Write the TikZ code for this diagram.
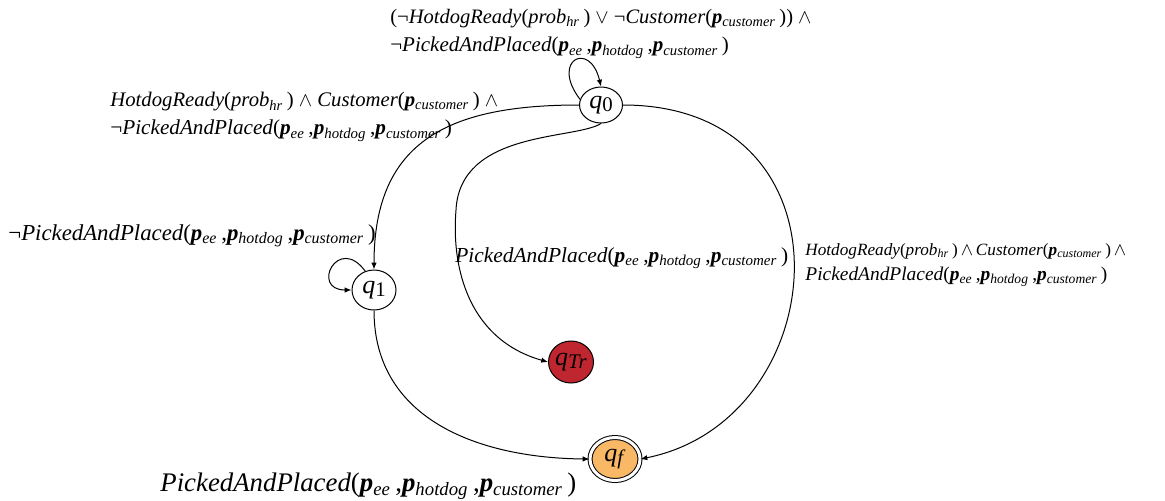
\documentclass[tikz,border=0pt]{standalone}
\usepackage{fontspec}
\usepackage{graphicx}
\setmainfont{Liberation Serif}
\usetikzlibrary{arrows.meta,shapes.geometric}

\definecolor{trapred}{RGB}{192,38,48}
\definecolor{goalorange}{RGB}{249,184,102}

% predicate pieces
\newcommand\bvec{\textbf{\textit{p}}}
\newcommand\sbs[1]{\textsubscript{\textit{#1}}}
\newcommand\pap{\textit{PickedAndPlaced}(\bvec\sbs{ee}\,,\bvec\sbs{hotdog}\,,\bvec\sbs{customer}\,)}
\newcommand\hdready{\textit{HotdogReady}(\textit{prob}\sbs{hr}\,)}
\newcommand\cust{\textit{Customer}(\bvec\sbs{customer}\,)}
\newcommand\stname[1]{\textit{q}\raisebox{-0.3ex}{\scalebox{0.8}{#1}}}
\newcommand\fs[2]{\fontsize{#1}{#2}\selectfont}

\tikzset{
  st/.style={ellipse, draw, line width=0.5pt, inner sep=0pt,
    font=\fs{13}{13}},
  lbl/.style={anchor=west, inner sep=0pt, align=left},
  edge/.style={line width=0.5pt, -{Latex[length=3.4pt,width=2.7pt]}}
}

\begin{document}
\begin{tikzpicture}[x=0.5pt, y=-0.5pt]
\useasboundingbox (0,0) rectangle (1165,500);

% states
\node[st, minimum width=21.5pt, minimum height=18pt] (q0) at (601,105) {\stname{0}};
\node[st, minimum width=22pt, minimum height=20pt] (q1) at (374,290) {\stname{1}};
\node[st, fill=trapred, minimum width=22.5pt, minimum height=21pt] (qtr) at (571,362)
  {\textit{q}\raisebox{-0.3ex}{\scalebox{0.8}{\textit{Tr}}}};
\node[st, fill=goalorange, double, double distance=1.5pt,
      minimum width=25pt, minimum height=21.5pt] (qf) at (615,459)
  {\textit{q}\raisebox{-0.3ex}{\scalebox{0.8}{\textit{f}}}};

% transition guards
\node[lbl, font=\fs{10.5}{14}] (l00) at (390,34)
  {{\fs{10.25}{14}(¬\hdready{} $\vee$ ¬\cust) $\wedge$}\\ ¬\pap};
\node[lbl, font=\fs{10.6}{14}] (l01) at (110,117)
  {{\fs{10.35}{14}\hdready{} $\wedge$ \cust{} $\wedge$}\\ ¬\pap};
\node[lbl, font=\fs{11.4}{14}] (l11) at (8,236) {¬\pap};
\node[lbl, font=\fs{10.7}{14}] (l0t) at (455,258) {\pap};
\node[lbl, font=\fs{9.7}{12.5}] (l0f) at (805,265)
  {{\fs{8.6}{12.5}\hdready\,$\wedge$\,\cust\,$\wedge$}\\ \pap};
\node[lbl, font=\fs{13.4}{14}] (l1f) at (160,486) {\pap};

% transitions
\draw[edge] (q0.165) .. controls (550,60) and (590,40) .. (q0.north);
\draw[edge] (q1.115) .. controls (338,234) and (310,290) .. (q1.west);
\draw[edge] (q0.west) .. controls (450,105) and (374,140) .. (q1.north);
\draw[edge] (q0.south) .. controls (575,140) and (460,130) .. (456,210)
  .. controls (451,270) and (470,340) .. (qtr.west);
\draw[edge] (q0.east) .. controls (860,105) and (835,420) .. (qf.east);
\draw[edge] (q1.south) .. controls (374,420) and (480,458) .. (qf.west);
\end{tikzpicture}
\end{document}
